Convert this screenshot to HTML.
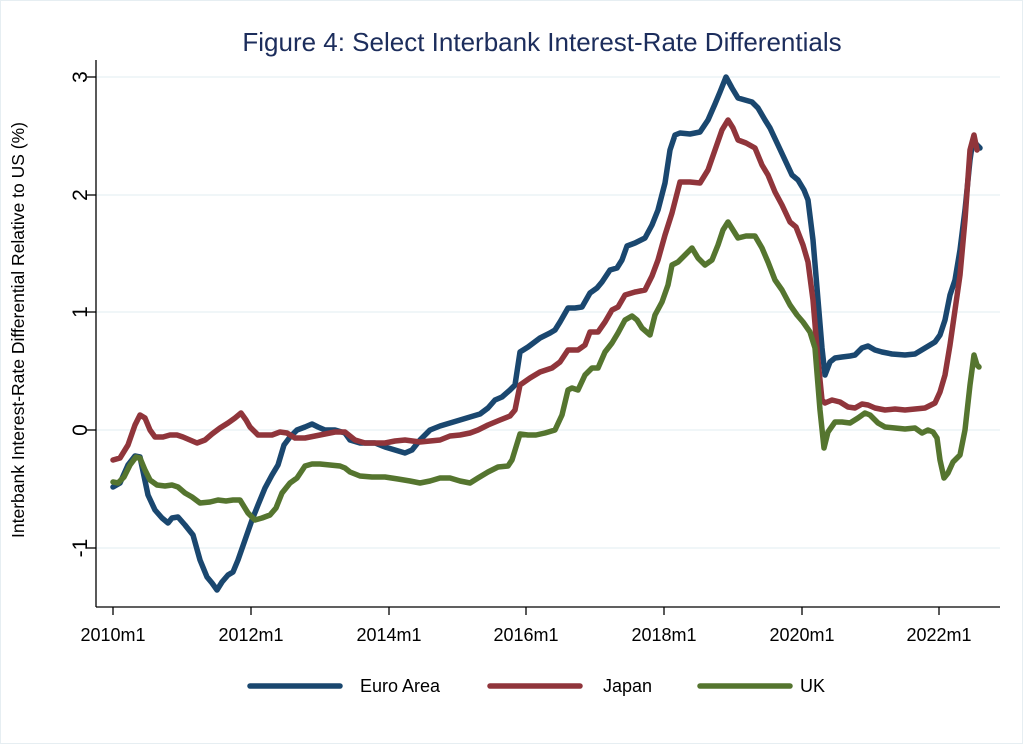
<!DOCTYPE html><html><head><style>body{margin:0;background:#fff}svg{display:block}text{font-family:"Liberation Sans",sans-serif}</style></head><body>
<svg width="1023" height="744" viewBox="0 0 1023 744">
<rect x="0.5" y="0.5" width="1022" height="743" fill="#fff" stroke="#e6eef2"/>
<text x="542" y="51" text-anchor="middle" font-size="26" fill="#1c2d5c">Figure 4: Select Interbank Interest-Rate Differentials</text>
<g stroke="#e8f0f3" stroke-width="1.3">
<line x1="96" x2="1000" y1="77" y2="77"/><line x1="96" x2="1000" y1="195" y2="195"/><line x1="96" x2="1000" y1="312" y2="312"/><line x1="96" x2="1000" y1="430" y2="430"/><line x1="96" x2="1000" y1="548" y2="548"/></g>
<g stroke="#000" stroke-width="1.3" fill="none">
<line x1="96" y1="60" x2="96" y2="607"/><line x1="96" y1="607" x2="1000" y2="607"/>
<line x1="87" x2="96" y1="77" y2="77"/><line x1="87" x2="96" y1="195" y2="195"/><line x1="87" x2="96" y1="312" y2="312"/><line x1="87" x2="96" y1="430" y2="430"/><line x1="87" x2="96" y1="548" y2="548"/>
<line x1="113" x2="113" y1="607" y2="615"/><line x1="251" x2="251" y1="607" y2="615"/><line x1="389" x2="389" y1="607" y2="615"/><line x1="526" x2="526" y1="607" y2="615"/><line x1="664" x2="664" y1="607" y2="615"/><line x1="802" x2="802" y1="607" y2="615"/><line x1="939" x2="939" y1="607" y2="615"/></g>
<g font-size="21" fill="#000" text-anchor="middle">
<text transform="translate(80,77) rotate(-90)" dy="7">3</text>
<text transform="translate(80,195) rotate(-90)" dy="7">2</text>
<text transform="translate(80,312) rotate(-90)" dy="7">1</text>
<text transform="translate(80,430) rotate(-90)" dy="7">0</text>
<text transform="translate(80,548) rotate(-90)" dy="7">-1</text>
</g>
<g font-size="18" fill="#000" text-anchor="middle">
<text x="113" y="641">2010m1</text><text x="251" y="641">2012m1</text><text x="389" y="641">2014m1</text><text x="526" y="641">2016m1</text><text x="664" y="641">2018m1</text><text x="802" y="641">2020m1</text><text x="939" y="641">2022m1</text></g>
<text transform="translate(24,330) rotate(-90)" text-anchor="middle" font-size="17.5">Interbank Interest-Rate Differential Relative to US (%)</text>
<g fill="none" stroke-width="5.5" stroke-linejoin="round" stroke-linecap="round">
<polyline stroke="#1a476f" points="113,487 120,483 128,465 135,456 140,457 148,495 155,510 162,518 168,523 172,518 178,517 185,525 193,535 200,560 207,577 212,583 217,590 222,582 228,575 233,572 238,560 245,540 252,520 258,505 265,488 272,475 278,465 284,445 290,437 297,430 305,427 312,424 318,427 325,430 335,430 345,433 350,440 360,443 375,443 385,447 395,450 405,453 412,450 420,440 430,430 440,426 450,423 460,420 470,417 480,414 488,408 495,400 502,397 510,390 515,385 520,352 528,347 540,338 550,333 555,330 560,322 568,308 575,308 582,307 590,293 597,288 602,282 610,270 617,268 622,260 627,246 635,243 645,238 652,225 658,210 665,183 670,150 675,135 680,133 690,134 700,132 708,120 715,104 720,92 726,77 732,88 738,98 745,100 752,102 758,108 765,120 770,128 778,145 785,160 792,175 798,180 804,190 808,200 813,240 818,300 822,348 825,375 830,362 835,358 842,357 850,356 855,355 862,348 868,346 875,350 882,352 892,354 905,355 915,354 925,348 935,342 940,335 945,320 950,295 955,280 960,250 965,210 970,160 973,140 977,145 980,148"/>
<polyline stroke="#90353b" points="113,460 120,458 128,445 135,425 140,415 145,418 150,430 155,437 163,437 170,435 177,435 183,437 190,440 197,443 205,440 212,434 220,428 228,423 235,418 241,413 246,420 250,427 258,435 265,435 272,435 280,432 287,433 295,438 305,438 315,436 325,434 335,432 345,432 355,440 365,443 375,443 385,443 395,441 405,440 420,442 430,441 440,440 450,436 460,435 470,433 478,430 488,425 500,420 510,416 515,410 520,385 530,378 540,372 552,368 560,362 568,350 578,350 585,345 590,332 598,332 605,322 612,310 618,307 625,295 635,292 645,290 652,276 658,260 665,235 672,213 680,182 690,182 700,183 708,170 715,150 722,130 728,120 733,128 738,140 746,143 755,148 762,165 768,175 775,192 782,205 790,222 796,227 803,245 808,262 813,300 818,360 822,400 825,403 832,400 840,402 848,407 855,408 862,404 868,405 875,408 885,410 895,409 905,410 915,409 925,408 935,403 940,392 945,375 950,345 955,310 960,275 965,220 970,150 974,135 977,150"/>
<polyline stroke="#55752f" points="113,482 118,483 124,477 130,465 136,457 140,458 145,470 150,480 157,485 165,486 172,485 178,487 185,493 192,497 200,503 210,502 218,500 226,501 233,500 240,500 248,513 255,520 262,518 270,515 276,508 282,493 290,483 297,478 305,466 312,464 320,464 330,465 340,466 345,468 350,472 360,476 372,477 385,477 398,479 410,481 420,483 430,481 440,478 450,478 460,481 470,483 478,478 488,472 498,467 508,466 512,460 520,434 528,435 536,435 545,433 555,430 562,415 568,390 572,388 578,390 585,375 592,368 598,368 605,352 612,343 618,333 625,320 632,316 637,320 642,328 650,335 655,315 662,302 668,285 672,265 678,262 685,255 692,248 698,258 705,265 712,260 718,245 723,230 728,222 733,230 738,238 746,236 755,236 762,248 768,262 775,280 782,290 790,305 797,315 803,322 810,332 815,348 820,410 824,448 828,432 835,422 842,422 850,423 858,418 865,413 870,415 878,423 885,427 895,428 905,429 915,428 922,433 928,430 933,432 937,438 940,460 944,478 948,473 953,462 960,455 965,430 970,385 974,355 977,365 979,367"/>
<line x1="250" x2="340" y1="686" y2="686" stroke="#1a476f"/>
<line x1="490" x2="580" y1="686" y2="686" stroke="#90353b"/>
<line x1="700" x2="790" y1="686" y2="686" stroke="#55752f"/>
</g>
<g font-size="18" fill="#000"><text x="360" y="692">Euro Area</text><text x="603" y="692">Japan</text><text x="800" y="692">UK</text></g>
</svg></body></html>
